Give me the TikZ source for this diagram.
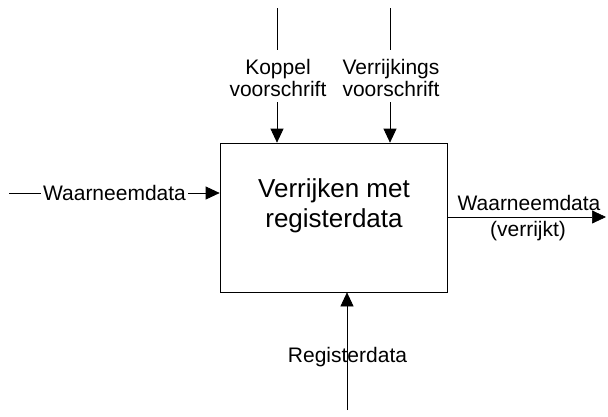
\documentclass[tikz,border=0pt]{standalone}
\usepackage{fontspec}
\setmainfont{Liberation Sans}
\usetikzlibrary{arrows.meta}
\begin{document}
\begin{tikzpicture}[x=1pt,y=-1pt,
  conn/.style={draw=black,line width=0.7pt},
  arr/.style={conn,-{Triangle[length=14pt,width=13pt]}},
  lbl/.style={font=\fontsize{21}{22}\selectfont,inner sep=1pt,align=center},
  mainbox/.style={draw=black,line width=0.7pt,minimum width=227pt,minimum height=149pt,inner sep=0pt},
  boxtext/.style={font=\fontsize{26}{30}\selectfont,align=center,inner sep=0pt}]
\useasboundingbox (0,0) rectangle (608,416);
\node[mainbox] (box) at (333.5,217.5) {};
\node[boxtext] (boxlab) at (334,206) {Verrijken met\\registerdata};
% top inputs
\coordinate (ktop) at (277,8);
\coordinate (vtop) at (390,8);
\node[lbl] (klab) at (278,78) {Koppel\\voorschrift};
\node[lbl] (vlab) at (391,78) {Verrijkings\\voorschrift};
\draw[conn] (ktop) -- (ktop |- 0,50);
\draw[arr] (ktop |- 0,102) -- (ktop |- box.north);
\draw[conn] (vtop) -- (vtop |- 0,50);
\draw[arr] (vtop |- 0,102) -- (vtop |- box.north);
% left input
\coordinate (lstart) at (9,193);
\node[lbl,inner sep=2pt] (llab) at (114.5,193) {Waarneemdata};
\draw[conn] (lstart) -- (llab.west);
\draw[arr] (llab.east) -- (llab.east -| box.west);
% right output
\coordinate (rstart) at (447,217);
\coordinate (rend) at (606,217);
\draw[arr] (rstart) -- (rend);
\node[lbl] (rlab1) at (529,203) {Waarneemdata};
\node[lbl] (rlab2) at (528,231) {(verrijkt)};
% bottom input
\node[lbl] (blab) at (347.5,357) {Registerdata};
\coordinate (bstart) at (347,410);
\draw[arr] (bstart) -- (bstart |- box.south);
\end{tikzpicture}
\end{document}
